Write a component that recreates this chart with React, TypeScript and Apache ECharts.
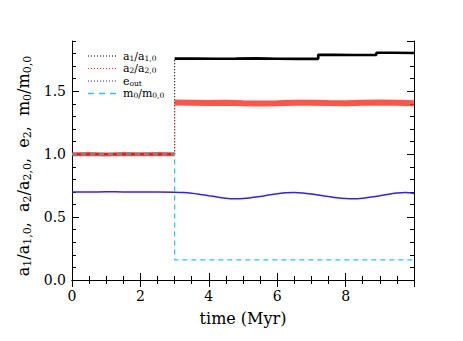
import React, { useEffect, useRef } from "react";
import * as echarts from "echarts";

// ---- data ----
const xTickLabels = ["0", "2", "4", "6", "8"];
const yTickLabels = ["0.0", "0.5", "1.0", "1.5"];

const preTimes = [0, 0.5, 1.0, 1.5, 2.0, 2.5, 3.0];
const a1Pre = [1.0, 1.0, 1.0, 1.0, 1.0, 1.0, 1.0];
const a2Pre = [1.0, 1.002, 0.998, 1.001, 0.999, 1.002, 1.0];

const a1PostTimes = [3.0, 3.6, 4.2, 4.8, 5.4, 6.0, 6.6, 7.2, 7.2, 7.7, 8.2, 8.9, 8.9, 9.4, 10.0];
const a1Post = [1.76, 1.761, 1.759, 1.76, 1.762, 1.759, 1.758, 1.758, 1.79, 1.79, 1.789, 1.79, 1.806, 1.807, 1.805];

const a2PostTimes = [3.0, 3.5, 4.0, 4.5, 5.0, 5.5, 6.0, 6.5, 7.0, 7.5, 8.0, 8.5, 9.0, 9.5, 10.0];
const a2Post = [1.412, 1.41, 1.408, 1.41, 1.406, 1.404, 1.406, 1.409, 1.41, 1.407, 1.405, 1.409, 1.411, 1.41, 1.405];

const eoutTimes = [0, 0.5, 1.0, 1.5, 2.0, 2.5, 3.0, 3.25, 3.5, 3.75, 4.0, 4.25, 4.5, 4.75, 5.0, 5.25, 5.5, 5.75, 6.0, 6.25, 6.5, 6.75, 7.0, 7.25, 7.5, 7.75, 8.0, 8.25, 8.5, 8.75, 9.0, 9.25, 9.5, 9.75, 10.0];
const eoutValues = [0.7, 0.699, 0.701, 0.7, 0.699, 0.7, 0.698, 0.695, 0.689, 0.68, 0.67, 0.66, 0.65, 0.646, 0.648, 0.655, 0.664, 0.675, 0.685, 0.693, 0.696, 0.692, 0.684, 0.674, 0.663, 0.653, 0.647, 0.645, 0.65, 0.659, 0.67, 0.681, 0.691, 0.696, 0.688];

const m0Times = [0, 3.0, 3.0, 10.0];
const m0Values = [1.0, 1.0, 0.16, 0.16];

const pairs = (t: number[], v: number[]) => t.map((x, i) => [x, v[i]]);

const SERIF = "DejaVu Serif";

export default function App() {
  const ref = useRef<HTMLDivElement>(null);
  useEffect(() => {
    if (!ref.current) return;
    const chart = echarts.init(ref.current, undefined, { renderer: "svg" });

    const majorY = (pos: "left" | "right", labels: boolean) => ({
      type: "value",
      position: pos,
      min: 0,
      max: 1.9,
      interval: 0.5,
      axisLine: { show: true, lineStyle: { color: "#000", width: 1 } },
      axisTick: { show: true, inside: true, length: 7, lineStyle: { color: "#000" } },
      axisLabel: {
        show: labels,
        showMaxLabel: false,
        margin: 6,
        color: "#000",
        fontFamily: SERIF,
        fontSize: 14,
        formatter: (v: number) => {
          const s = v.toFixed(1);
          return yTickLabels.includes(s) ? s : "";
        },
      },
      splitLine: { show: false },
    });
    const minorY = (pos: "left" | "right") => ({
      type: "value",
      position: pos,
      min: 0,
      max: 1.9,
      interval: 0.1,
      axisLine: { show: false },
      axisTick: { show: true, inside: true, length: 4, lineStyle: { color: "#000" } },
      axisLabel: { show: false },
      splitLine: { show: false },
    });
    const xAx = (pos: "bottom" | "top", labels: boolean) => ({
      type: "value",
      position: pos,
      min: 0,
      max: 10,
      interval: 2,
      axisLine: { show: true, lineStyle: { color: "#000", width: 1 } },
      axisTick: { show: true, inside: true, length: 7, lineStyle: { color: "#000" } },
      minorTick: { show: true, splitNumber: 4, length: 4, lineStyle: { color: "#000" } },
      axisLabel: {
        show: labels,
        showMaxLabel: false,
        margin: 9,
        color: "#000",
        fontFamily: SERIF,
        fontSize: 14,
        formatter: (v: number) => {
          const s = String(Math.round(v));
          return xTickLabels.includes(s) ? s : "";
        },
      },
      splitLine: { show: false },
    });

    const lineSeries = (data: number[][], color: string, width: number, type: any = "solid", extra: any = {}) => ({
      type: "line",
      data,
      showSymbol: false,
      symbol: "none",
      xAxisIndex: 0,
      yAxisIndex: 0,
      lineStyle: { color, width, type },
      silent: true,
      ...extra,
    });

    const a1Last = [preTimes[preTimes.length - 1], a1Pre[a1Pre.length - 1]];
    const a2Last = [preTimes[preTimes.length - 1], a2Pre[a2Pre.length - 1]];

    const legendRows = [
      { y: 56, color: "#000", width: 1.2, dash: [1, 2], text: "{b|a}{s|1}{b|/a}{s|1,0}" },
      { y: 68.5, color: "#ff2a1a", width: 1.2, dash: [1, 2], text: "{b|a}{s|2}{b|/a}{s|2,0}" },
      { y: 81, color: "#3a1cff", width: 1.2, dash: [1, 2], text: "{b|e}{s|out}" },
      { y: 93.5, color: "#22c8ff", width: 1.6, dash: [6, 5], text: "{b|m}{s|0}{b|/m}{s|0,0}" },
    ];
    const legendRich = {
      b: { fontSize: 11, lineHeight: 11, fontFamily: SERIF, fill: "#000" },
      s: { fontSize: 7.5, lineHeight: 7.5, fontFamily: SERIF, fill: "#000", padding: [4, 0, 0, 0] },
    };

    const graphic: any[] = [];
    legendRows.forEach((r) => {
      graphic.push({
        type: "line",
        shape: { x1: 88, y1: r.y, x2: 117, y2: r.y },
        style: { stroke: r.color, lineWidth: r.width, lineDash: r.dash },
        silent: true,
      });
      graphic.push({
        type: "text",
        x: 123,
        y: r.y,
        style: { text: r.text, rich: legendRich, align: "left", verticalAlign: "middle" },
        silent: true,
      });
    });
    graphic.push({
      type: "text",
      x: 23,
      y: 166,
      rotation: Math.PI / 2,
      style: {
        text: "{b|a}{s|1}{b|/a}{s|1,0}{b|,  a}{s|2}{b|/a}{s|2,0}{b|,  e}{s|2}{b|,  m}{s|0}{b|/m}{s|0,0}",
        rich: {
          b: { fontSize: 16, fontFamily: SERIF, fill: "#000" },
          s: { fontSize: 11, fontFamily: SERIF, fill: "#000", padding: [8, 0, 0, 0] },
        },
        align: "center",
        verticalAlign: "middle",
      },
      silent: true,
    });
    graphic.push({
      type: "text",
      x: 243,
      y: 318,
      style: { text: "time (Myr)", font: `16px "${SERIF}"`, fill: "#000", align: "center", verticalAlign: "middle" },
      silent: true,
    });

    chart.setOption({
      animation: false,
      backgroundColor: "#fff",
      grid: { left: 72, right: 49, top: 41, bottom: 61, containLabel: false },
      xAxis: [xAx("bottom", true), xAx("top", false)],
      yAxis: [majorY("left", true), minorY("left"), majorY("right", false), minorY("right")],
      series: [
        lineSeries(pairs(preTimes, a1Pre), "#000", 2),
        lineSeries([a1Last, [a1PostTimes[0], a1Post[0]]], "#000", 1.2, [1, 2]),
        lineSeries(pairs(a1PostTimes, a1Post), "#000", 2.6),
        lineSeries(pairs(preTimes, a2Pre), "#ff2a1a", 4, "solid", { lineStyle: { color: "#ff2a1a", width: 4, opacity: 0.8 } }),
        lineSeries([a2Last, [a2PostTimes[0], a2Post[0]]], "#ff2a1a", 1.2, [1, 2]),
        lineSeries(pairs(a2PostTimes, a2Post), "#ff2a1a", 6, "solid", { lineStyle: { color: "#ff2a1a", width: 6, opacity: 0.8 } }),
        lineSeries(pairs(eoutTimes, eoutValues), "#3a1cff", 1.5, "solid", { smooth: 0.3 }),
        lineSeries(pairs(m0Times, m0Values), "#22c8ff", 1.3, [5, 4]),
      ],
      graphic,
    });
    return () => chart.dispose();
  }, []);
  return (
    <div
      ref={ref}
      style={{ position: "absolute", left: 0, top: 0, width: 463, height: 341 }}
    />
  );
}
